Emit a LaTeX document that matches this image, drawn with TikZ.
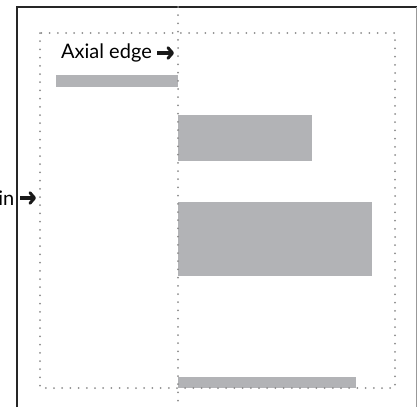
\documentclass[tikz,border=0pt]{standalone}
\usepackage{fontspec}
\usetikzlibrary{arrows.meta}
\setmainfont{Lato}
\begin{document}
\begin{tikzpicture}[x=1pt,y=-1pt,
  bar/.style={fill=barcol,draw=none},
  dotline/.style={draw=dotcol,line width=2pt,line cap=round,dash pattern=on 0pt off 8.2pt},
  lbl/.style={inner sep=0pt,font=\fontsize{20}{22}\selectfont},
  heavyarrow/.style={draw=black!90,line width=3.4pt,-{Straight Barb[length=4.5pt,width=10.5pt,line width=3pt,round]}}]
\definecolor{barcol}{RGB}{178,179,182}
\definecolor{dotcol}{RGB}{140,140,140}
\useasboundingbox (0,0) rectangle (417,407);
% frame
\draw[line width=2.4pt,black!85] (17,407) -- (17,7) -- (417,7);
\draw[line width=1pt,black!40] (416,7) -- (416,407);
% bars
\path[bar] (56,75) rectangle (178,87);
\path[bar] (178,115) rectangle (312,161);
\path[bar] (178,202) rectangle (372,276);
\path[bar] (178,377) rectangle (356,388);
% dotted lines
\draw[dotline] (40,33) rectangle (395,388);
\draw[dotline] (178,7) -- (178,407);
% labels
\coordinate (axs) at (157,53);
\coordinate (axe) at (174,53);
\node[lbl,anchor=east] (ax) at (152,53) {Axial edge};
\draw[heavyarrow] (axs) -- (axe);
\coordinate (ins) at (20,198);
\coordinate (ine) at (36,198);
\node[lbl,anchor=east] (in) at (14.5,198) {in};
\draw[heavyarrow] (ins) -- (ine);
\end{tikzpicture}
\end{document}
